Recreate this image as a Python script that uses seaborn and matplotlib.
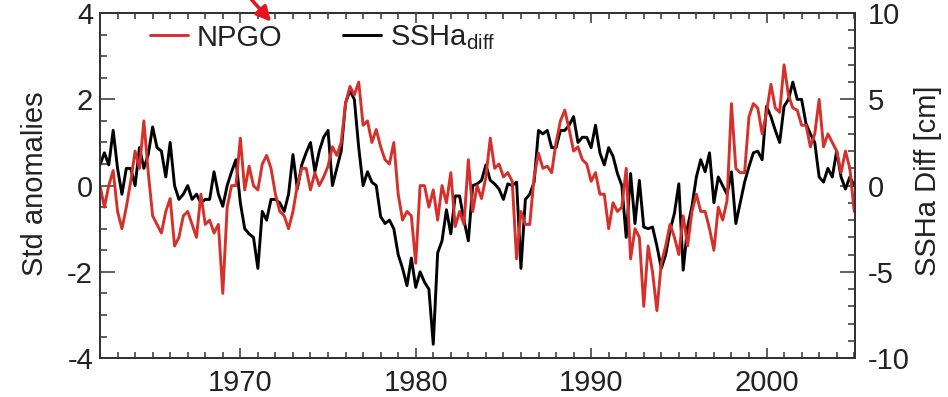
import numpy as np
import seaborn as sns
import matplotlib.pyplot as plt
from matplotlib.ticker import MultipleLocator

# quarterly samples, 1962.0 .. 2005.0
years = np.arange(1962, 2005.01, 0.25)

# NPGO index (std anomalies, left axis)
npgo = [0.0, -0.5, 0.0, 0.35, -0.6, -1.0, -0.5, 0.1, 0.8, 0.4,
        1.5, 0.3, -0.7, -0.9, -1.1, -0.6, -0.3, -1.4, -1.2, -0.7,
        -0.6, -0.9, -1.2, -0.2, -0.9, -0.8, -1.1, -0.9, -2.5, -0.5,
        0.0, 0.0, 1.1, -0.1, 0.45,
        0.0, -0.1, 0.5, 0.7, 0.4, -0.2, -0.6, -0.7, -1.0, -0.6,
        0.0, 0.4, 0.4, -0.1, 0.3, 0.0, 0.2, 0.45, 0.9, 0.7,
        1.0, 1.9, 2.3, 2.1, 2.4, 1.4, 1.5, 1.0, 1.3, 0.9,
        0.6, 0.5, 1.0, -0.2,
        -0.8, -0.6, -0.7, -1.8, 0.0, 0.0, -0.5, -0.1, -0.8, 0.0,
        -0.4, 0.3, -0.95, -0.6, -0.9, 0.6, -0.6, 0.0, -0.3, 0.2,
        1.1, 0.4, 0.5, 0.2, 0.3, 0.1, -1.7, -0.6, -0.9, -0.9,
        0.2, 0.75, 0.4, 0.45, 0.3,
        1.0, 1.5, 1.75, 1.3, 0.8, 0.9, 0.6, 0.5, 0.1, 0.3,
        -0.2, -0.2, -1.0, -0.4, -0.6, -0.5, 0.4, -1.7, -1.0, -1.2,
        -2.8, -1.4, -2.0, -2.9, -1.8, -1.4, -0.9, -1.2, -1.6, -0.7,
        -1.4, -0.6, -0.2, -0.6,
        -0.6, -1.0, -1.5, -0.5, -0.8, -0.35, 1.9, 0.4, 0.3, 0.3,
        1.6, 1.9, 1.8, 1.2, 1.7, 2.35, 1.8, 1.7, 2.8, 2.1,
        1.8, 1.75, 1.4, 1.4, 0.9, 1.2, 2.0, 0.9, 1.2, 1.0,
        0.8, 0.3, 0.8, 0.4, -0.6]

# SSHa difference in cm (right axis)
ssha_cm = [1.2, 1.9, 1.2, 3.2, 1.0, -0.5, 1.0, 1.0, 0.0, 2.2,
           1.0, 1.8, 3.4, 2.2, 2.0, 0.5, 2.5, 0.0, -0.8, -0.5,
           0.0, -0.8, -0.5, -1.0, -0.8, -0.8, 0.8, -0.5, -1.2, 0.0,
           0.8, 1.5, -1.0, -2.5, -2.8,
           -3.0, -4.8, -1.5, -2.0, -0.8, -0.8, -1.0, -1.5, -0.5, 1.8,
           -0.2, 1.2, 1.9, 2.5, 0.8, 2.0, 2.8, 3.2, 0.0, 1.0,
           2.0, 4.8, 5.5, 5.0, 2.2, 0.0, 0.8, 0.2, 0.0, -1.8,
           -2.2, -2.0, -2.5, -4.0,
           -4.8, -5.8, -4.2, -5.9, -5.0, -5.6, -6.0, -9.2, -3.9, -3.2,
           -1.4, -2.8, -0.6, -0.6, -2.0, -3.2, 0.0, 0.1, 0.3, 1.2,
           0.3, 0.1, -0.2, -0.8, 0.1, 0.0, 0.2, -4.8, -0.8, -0.5,
           0.2, 3.2, 3.0, 3.2, 2.2,
           2.2, 3.2, 3.2, 3.5, 4.0, 2.5, 2.8, 2.8, 2.2, 3.5,
           1.9, 1.2, 2.2, 1.7, 0.7, 0.0, -3.0, 0.7, -2.2, 0.3,
           -2.4, -2.5, -2.4, -3.5, -4.8, -4.0, -2.6, -1.6, 0.1, -4.9,
           -2.4, -1.2, 0.5, 1.5,
           0.8, 1.9, -1.0, 0.5, 0.0, -0.5, 0.8, -2.2, -1.0, 0.2,
           1.1, 1.9, 2.0, 1.5, 4.6, 4.0, 3.2, 2.5, 4.6, 5.0,
           6.0, 5.0, 5.0, 3.6, 3.0, 2.5, 0.5, 0.2, 1.0, 0.5,
           2.0, 0.5, -0.2, 0.5, 0.0]

left_ticks = [-4, -2, 0, 2, 4]
right_ticks = [-10, -5, 0, 5, 10]
year_ticks = [1970, 1980, 1990, 2000]

sns.set_style("ticks")
plt.rcParams['font.family'] = ['Liberation Sans', 'DejaVu Sans']
plt.rcParams['mathtext.fontset'] = 'custom'
plt.rcParams['mathtext.rm'] = 'Liberation Sans'
plt.rcParams['axes.unicode_minus'] = False
fs = 21
txt = '#222222'

fig = plt.figure(figsize=(9.48, 3.97), dpi=100)
ax = fig.add_axes([0.1055, 0.098, 0.7965, 0.869])
ax2 = ax.twinx()
ax.set_zorder(ax2.get_zorder() + 1)
ax.patch.set_visible(False)

sns.lineplot(x=years, y=ssha_cm, ax=ax2, color='black', lw=2.1)
sns.lineplot(x=years, y=npgo, ax=ax, color='#d6302b', lw=2.1)

ax.set_xlim(1962, 2005.05)
ax.set_ylim(-4, 4)
ax2.set_ylim(-10, 10)
ax.set_xticks(year_ticks)
ax.xaxis.set_minor_locator(MultipleLocator(1))
ax.set_yticks(left_ticks)
ax.yaxis.set_minor_locator(MultipleLocator(0.5))
ax2.set_yticks(right_ticks)
ax2.yaxis.set_minor_locator(MultipleLocator(1))

ax.tick_params(axis='x', which='both', direction='in', top=True, bottom=True,
               labelsize=fs, labelcolor=txt, pad=8, width=1.1, color='#333333')
ax.tick_params(axis='x', which='major', length=7)
ax.tick_params(axis='x', which='minor', length=4)
ax.tick_params(axis='y', which='both', direction='in', left=True, right=False,
               labelsize=fs, labelcolor=txt, pad=5, width=1.1, color='#333333')
ax.tick_params(axis='y', which='major', length=11)
ax.tick_params(axis='y', which='minor', length=5)
ax2.tick_params(axis='y', which='both', direction='in', right=True, left=False,
                labelsize=fs, labelcolor=txt, pad=9, width=1.1, color='#333333')
ax2.tick_params(axis='y', which='major', length=11)
ax2.tick_params(axis='y', which='minor', length=5)

for a in (ax, ax2):
    for s in a.spines.values():
        s.set_visible(True)
        s.set_linewidth(1.4)
        s.set_color('#333333')

ax.set_xlabel('')
ax.set_ylabel('Std anomalies', fontsize=fs, color=txt)
ax.yaxis.set_label_coords(-0.068, 0.506)
ax2.set_ylabel('SSHa Diff [cm]', fontsize=fs, color=txt)
ax2.yaxis.set_label_coords(1.078, 0.513)

handles = [ax.lines[0], ax2.lines[0]]
ax.legend(handles, ['NPGO', r'SSHa$_{\mathrm{diff}}$'], loc='center left',
          bbox_to_anchor=(0.031, 0.928), ncol=2, frameon=False, fontsize=fs,
          handlelength=1.3, handletextpad=0.3, columnspacing=2.1, labelcolor=txt)

# red pointer arrow at the top of the figure
ax.annotate('', xy=(0.288, 0.94), xytext=(0.262, 1.01), xycoords='figure fraction',
            textcoords='figure fraction', annotation_clip=False,
            arrowprops=dict(arrowstyle='-|>', color='#e8141b', lw=2.5, mutation_scale=22))

fig.savefig('out.png', dpi=100)
